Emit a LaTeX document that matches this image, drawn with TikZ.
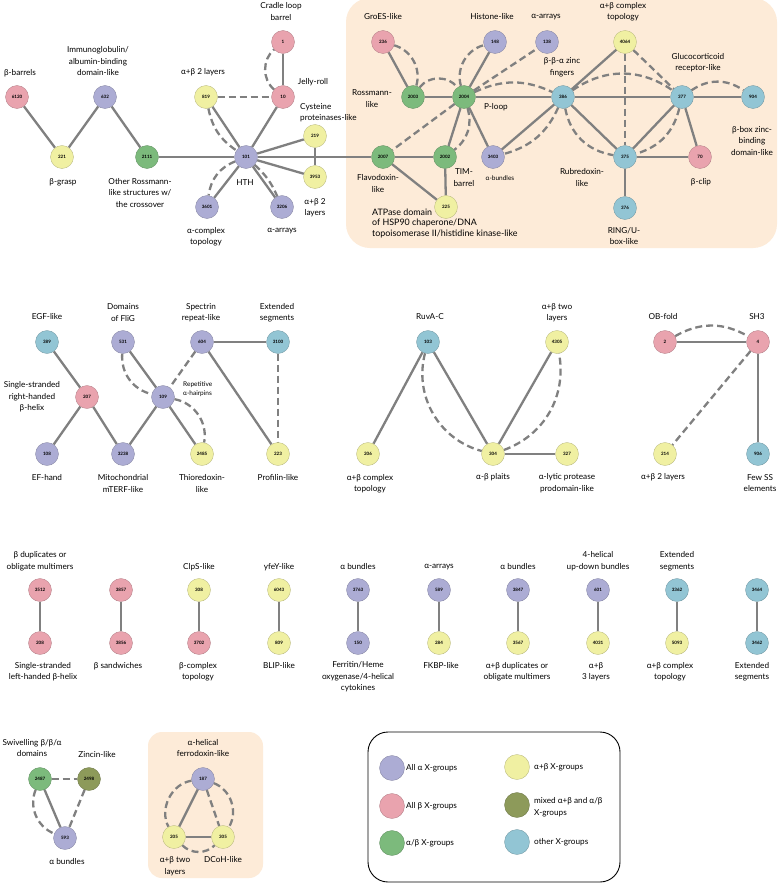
\documentclass[tikz,border=0pt]{standalone}
\usepackage{fontspec}
\setmainfont{Lato}
\pgfdeclarelayer{back}
\pgfdeclarelayer{edges}
\pgfsetlayers{back,edges,main}
\definecolor{ca}{RGB}{172,172,212}
\definecolor{cb}{RGB}{233,163,174}
\definecolor{cab}{RGB}{124,186,124}
\definecolor{capb}{RGB}{240,240,162}
\definecolor{cmx}{RGB}{141,154,90}
\definecolor{cot}{RGB}{146,197,212}
\definecolor{ec}{RGB}{128,128,128}
\definecolor{peach}{RGB}{253,235,216}
\newcommand\nfont{\fontsize{4.5}{5}\selectfont\bfseries}
\newcommand\lfont{\fontsize{8.2}{11.5}\selectfont}
\newcommand\sfont{\fontsize{6.5}{9.5}\selectfont}
\newcommand\bfontx{\fontsize{8.9}{10.5}\selectfont}
\tikzset{
  nd/.style={circle, minimum size=23pt, inner sep=0pt, draw=#1!75!black, line width=0.3pt, fill=#1, font=\nfont},
  na/.style={nd=ca}, nb/.style={nd=cb}, nab/.style={nd=cab}, napb/.style={nd=capb}, nmx/.style={nd=cmx}, nother/.style={nd=cot},
  lg/.style={minimum size=25pt},
  sl/.style={draw=ec, line width=2.3pt},
  dsh/.style={draw=ec, line width=2.3pt, dash pattern=on 7pt off 4pt},
  lb/.style={font=\lfont, align=center, inner sep=0pt},
  lbl/.style={font=\lfont, align=left, inner sep=0pt, anchor=west},
  lbs/.style={font=\sfont, align=left, inner sep=0pt, anchor=west},
}
\begin{document}
\begin{tikzpicture}[x=1pt,y=-1pt]
\useasboundingbox (0,0) rectangle (780,886);
\begin{pgfonlayer}{back}
\fill[white] (0,0) rectangle (780,886);
\fill[peach, rounded corners=24pt] (346,-2) rectangle (777,248);
\fill[peach, rounded corners=14pt] (148,732) rectangle (263,878);
\draw[black, line width=0.9pt, rounded corners=20pt] (368,732) rectangle (620,882);
\end{pgfonlayer}

% ---------- top-left cluster ----------
\node[nb] (n6120) at (17,97) {6120};
\node[napb] (n221) at (62,157) {221};
\node[na] (n632) at (105,97) {632};
\node[nab] (n2111) at (147,157) {2111};
\node[na] (n101) at (246,157) {101};
\node[napb] (n819) at (206,97) {819};
\node[nb] (n10) at (283,97) {10};
\node[nb] (n1) at (283,42) {1};
\node[napb] (n219) at (315,136) {219};
\node[napb] (n3953) at (315,177) {3953};
\node[na] (n3601) at (207,207) {3601};
\node[na] (n3206) at (282,207) {3206};

\node[lb] (t6120) at (20,73) {β-barrels};
\node[lb] (t221) at (63,182) {β-grasp};
\node[lb] (t632) at (98,61.5) {Immunoglobulin/\\albumin-binding\\domain-like};
\node[lb] (t2111) at (140,193) {Other Rossmann-\\like structures w/\\the crossover};
\node[lb] (t101) at (245,183) {HTH};
\node[lb] (t819) at (203,72) {α+β 2 layers};
\node[lb] (t10) at (313,82) {Jelly-roll};
\node[lb] (t1) at (281,11.5) {Cradle loop\\barrel};
\node[lbl] (t219) at (300,112.5) {Cysteine\\proteinases-like};
\node[lb] (t3953) at (315,207.5) {α+β 2\\layers};
\node[lb] (t3601) at (206,236.5) {α-complex\\topology};
\node[lb] (t3206) at (282,231) {α-arrays};

% ---------- top-right cluster ----------
\node[nb] (n236) at (383,42) {236};
\node[nab] (n2003) at (413,97) {2003};
\node[nab] (n2004) at (464,97) {2004};
\node[na] (n148) at (495,42) {148};
\node[na] (n138) at (547,42) {138};
\node[napb] (n4064) at (625,42) {4064};
\node[nother] (n386) at (563,97) {386};
\node[nother] (n377) at (682,97) {377};
\node[nother] (n904) at (753,97) {904};
\node[nab] (n2007) at (383,157) {2007};
\node[nab] (n2002) at (445,157) {2002};
\node[na] (n3403) at (493,157) {3403};
\node[napb] (n225) at (446,207) {225};
\node[nother] (n375) at (625,157) {375};
\node[nb] (n70) at (700,157) {70};
\node[nother] (n376) at (625,208) {376};

\node[lb] (t236) at (383,17) {GroES-like};
\node[lb] (t2003) at (372,98.5) {Rossmann-\\like};
\node[lb] (t2004) at (496,107) {P-loop};
\node[lb] (t148) at (492,17) {Histone-like};
\node[lb] (t138) at (546,17) {α-arrays};
\node[lb] (t4064) at (623,11.5) {α+β complex\\topology};
\node[lb] (t386) at (562,67.5) {β-β-α zinc\\fingers};
\node[lb] (t377) at (698,62.5) {Glucocorticoid\\receptor-like};
\node[lb] (t904) at (752,141) {β-box zinc-\\binding\\domain-like};
\node[lb] (t2007) at (378,183.5) {Flavodoxin-\\like};
\node[lb] (t2002) at (464,177.5) {TIM-\\barrel};
\node[lb, font=\sfont] (t3403) at (500,178) {α-bundles};
\node[lbl, font=\bfontx] (t225) at (372,223) {ATPase domain\\of HSP90 chaperone/DNA\\topoisomerase II/histidine kinase-like};
\node[lb] (t375) at (582,177.5) {Rubredoxin-\\like};
\node[lb] (t70) at (701,182) {β-clip};
\node[lb] (t376) at (624,236) {RING/U-\\box-like};

% ---------- middle row ----------
\node[nother] (n389) at (47,342) {389};
\node[na] (n531) at (123,342) {531};
\node[na] (n604) at (202,342) {604};
\node[nother] (n3100) at (278,342) {3100};
\node[nb] (n207) at (87,397) {207};
\node[na] (n109) at (163,397) {109};
\node[na] (n108) at (47,454) {108};
\node[na] (n3238) at (123,454) {3238};
\node[napb] (n2485) at (202,454) {2485};
\node[napb] (n223) at (278,454) {223};
\node[napb] (n206) at (368,454) {206};
\node[nother] (n103) at (428,342) {103};
\node[napb] (n4305) at (557,342) {4305};
\node[napb] (n304) at (493,454) {304};
\node[napb] (n327) at (567,454) {327};
\node[nb] (n2) at (665,342) {2};
\node[nb] (n4) at (758,342) {4};
\node[napb] (n214) at (665,454) {214};
\node[nother] (n906) at (758,454) {906};

\node[lb] (t389) at (47,317) {EGF-like};
\node[lb] (t531) at (123,312.5) {Domains\\of FliG};
\node[lb] (t604) at (201,312.5) {Spectrin\\repeat-like};
\node[lb] (t3100) at (277,312.5) {Extended\\segments};
\node[lb] (t207) at (32,397) {Single-stranded\\right-handed\\β-helix};
\node[lbs] (t109) at (183,389) {Repetitive\\α-hairpins};
\node[lb] (t108) at (47,478) {EF-hand};
\node[lb] (t3238) at (123,483.5) {Mitochondrial\\mTERF-like};
\node[lb] (t2485) at (202,483.5) {Thioredoxin-\\like};
\node[lb] (t223) at (278,478) {Profilin-like};
\node[lb] (t206) at (370,483.5) {α+β complex\\topology};
\node[lb] (t103) at (430,317) {RuvA-C};
\node[lb] (t4305) at (557,312.5) {α+β two\\layers};
\node[lb] (t304) at (493,477) {α-β plaits};
\node[lb] (t327) at (567,483) {α-lytic protease\\prodomain-like};
\node[lb] (t2) at (663,317) {OB-fold};
\node[lb] (t4) at (757,317) {SH3};
\node[lb] (t214) at (663,477) {α+β 2 layers};
\node[lb] (t906) at (760,483) {Few SS\\elements};

% ---------- third row (pairs) ----------
\node[nb] (n3512) at (40,590) {3512};
\node[nb] (n208) at (40,643) {208};
\node[nb] (n3857) at (121,590) {3857};
\node[nb] (n3856) at (121,643) {3856};
\node[napb] (n308) at (199,590) {308};
\node[nb] (n3702) at (199,643) {3702};
\node[napb] (n6043) at (279,590) {6043};
\node[napb] (n809) at (279,643) {809};
\node[na] (n3763) at (358,590) {3763};
\node[na] (n150) at (358,643) {150};
\node[na] (n589) at (439,590) {589};
\node[napb] (n284) at (439,643) {284};
\node[na] (n3847) at (518,590) {3847};
\node[napb] (n3567) at (518,643) {3567};
\node[na] (n601) at (598,590) {601};
\node[napb] (n4031) at (598,643) {4031};
\node[nother] (n3362) at (677,590) {3362};
\node[napb] (n5093) at (677,643) {5093};
\node[nother] (n3464) at (757,590) {3464};
\node[nother] (n3462) at (757,643) {3462};

\node[lb] (t3512) at (40,561) {β duplicates or\\obligate multimers};
\node[lb] (t308) at (199,567) {ClpS-like};
\node[lb] (t6043) at (279,567) {yfeY-like};
\node[lb] (t3763) at (358,567) {α bundles};
\node[lb] (t589) at (439,567) {α-arrays};
\node[lb] (t3847) at (518,567) {α bundles};
\node[lb] (t601) at (598,561) {4-helical\\up-down bundles};
\node[lb] (t3362) at (677,561) {Extended\\segments};
\node[lb] (t208) at (43,671.5) {Single-stranded\\left-handed β-helix};
\node[lb] (t3856) at (118,666) {β sandwiches};
\node[lb] (t3702) at (198,671.5) {β-complex\\topology};
\node[lb] (t809) at (279,666) {BLIP-like};
\node[lb] (t150) at (358,677) {Ferritin/Heme\\oxygenase/4-helical\\cytokines};
\node[lb] (t284) at (441,666) {FKBP-like};
\node[lb] (t3567) at (517,671.5) {α+β duplicates or\\obligate multimers};
\node[lb] (t4031) at (596,671.5) {α+β\\3 layers};
\node[lb] (t5093) at (670,671.5) {α+β complex\\topology};
\node[lb] (t3462) at (752,671.5) {Extended\\segments};

% ---------- bottom row ----------
\node[nab] (n2487) at (40,779) {2487};
\node[nmx] (n2498) at (89,779) {2498};
\node[na] (n593) at (65,838) {593};
\node[na] (n187) at (203,779) {187};
\node[napb] (n205) at (174,837) {205};
\node[napb] (n305) at (223,837) {305};

\node[lb] (t2487) at (32,748) {Swivelling β/β/α\\domains};
\node[lb] (t2498) at (97,754) {Zincin-like};
\node[lb] (t593) at (67,862) {α bundles};
\node[lb] (t187) at (203,748) {α-helical\\ferrodoxin-like};
\node[lb] (t205) at (175,866) {α+β two\\layers};
\node[lb] (t305) at (223,860) {DCoH-like};

% ---------- legend ----------
\node[na, lg] (k1) at (392,768) {};
\node[nb, lg] (k2) at (392,806) {};
\node[nab, lg] (k3) at (392,843) {};
\node[napb, lg] (k4) at (517,767) {};
\node[nmx, lg] (k5) at (517,805) {};
\node[nother, lg] (k6) at (517,842) {};
\node[lbl] (kt1) at (406,768) {All α X-groups};
\node[lbl] (kt2) at (406,806) {All β X-groups};
\node[lbl] (kt3) at (406,843) {α/β X-groups};
\node[lbl] (kt4) at (534,767) {α+β X-groups};
\node[lbl] (kt5) at (534,807) {mixed α+β and α/β\\X-groups};
\node[lbl] (kt6) at (534,842) {other X-groups};

% ---------- edges ----------
\begin{pgfonlayer}{edges}
% top-left
\draw[sl] (n6120) -- (n221);
\draw[sl] (n221) -- (n632);
\draw[sl] (n632) -- (n2111);
\draw[sl] (n2111) -- (n101);
\draw[sl] (n101) -- (n819);
\draw[sl] (n101) -- (n10);
\draw[sl] (n10) -- (n1);
\draw[sl] (n101) -- (n219);
\draw[sl] (n101) -- (n3953);
\draw[sl] (n219) -- (n3953);
\draw[sl] (n101) -- (n3601);
\draw[sl] (n101) -- (n3206);
\draw[sl] (n101) -- (n2007);
\draw[dsh] (n819) -- (n10);
\draw[dsh] (n10) to[bend left=50] (n1);
\draw[dsh] (n819) to[bend right=22] (n101);
\draw[dsh] (n101) to[bend right=30] (n3601);
\draw[dsh] (n101) to[bend left=12] (n3206);
% top-right
\draw[sl] (n236) -- (n2003);
\draw[sl] (n2003) -- (n2004);
\draw[sl] (n2004) -- (n148);
\draw[sl] (n2004) -- (n386);
\draw[sl] (n2004) -- (n3403);
\draw[sl] (n2004) -- (n2002);
\draw[sl] (n2007) -- (n2002);
\draw[sl] (n2007) -- (n225);
\draw[sl] (n2002) -- (n225);
\draw[sl] (n386) -- (n4064);
\draw[sl] (n386) -- (n377);
\draw[sl] (n386) -- (n375);
\draw[sl] (n386) -- (n3403);
\draw[sl] (n377) -- (n904);
\draw[sl] (n377) -- (n375);
\draw[sl] (n377) -- (n70);
\draw[sl] (n375) -- (n70);
\draw[sl] (n375) -- (n376);
\draw[dsh] (n2004) -- (n138);
\draw[dsh] (n2004) -- (n2007);
\draw[dsh] (n4064) -- (n375);
\draw[dsh] (n4064) -- (n377);
\draw[dsh] (n236) to[bend left=45] (n2003);
\draw[dsh] (n2003) to[bend left=55] (n2004);
\draw[dsh] (n2004) to[bend left=45] (n148);
\draw[dsh] (n2004) to[bend left=25] (n386);
\draw[dsh] (n2004) to[bend left=35] (n2002);
\draw[dsh] (n386) to[bend left=35] (n377);
\draw[dsh] (n377) to[bend left=35] (n904);
\draw[dsh] (n386) to[bend right=35] (n375);
\draw[dsh] (n386) to[bend left=25] (n3403);
\draw[dsh] (n377) to[bend left=30] (n375);
% middle
\draw[sl] (n389) -- (n207);
\draw[sl] (n207) -- (n108);
\draw[sl] (n207) -- (n3238);
\draw[sl] (n3238) -- (n109);
\draw[sl] (n531) -- (n109);
\draw[sl] (n109) -- (n2485);
\draw[sl] (n604) -- (n3100);
\draw[sl] (n604) -- (n223);
\draw[dsh] (n604) -- (n109);
\draw[dsh] (n3100) -- (n223);
\draw[dsh] (n531) to[bend right=40] (n109);
\draw[dsh] (n109) to[bend left=45] (n2485);
\draw[sl] (n206) -- (n103);
\draw[sl] (n103) -- (n304);
\draw[sl] (n304) -- (n4305);
\draw[sl] (n304) -- (n327);
\draw[dsh] (n103) to[bend right=45] (n304);
\draw[dsh] (n304) to[bend right=40] (n4305);
\draw[sl] (n2) -- (n4);
\draw[sl] (n4) -- (n906);
\draw[dsh] (n4) -- (n214);
\draw[dsh] (n2) to[bend left=30] (n4);
% pairs
\draw[sl] (n3512) -- (n208);
\draw[sl] (n3857) -- (n3856);
\draw[sl] (n308) -- (n3702);
\draw[sl] (n6043) -- (n809);
\draw[sl] (n3763) -- (n150);
\draw[sl] (n589) -- (n284);
\draw[sl] (n3847) -- (n3567);
\draw[sl] (n601) -- (n4031);
\draw[sl] (n3362) -- (n5093);
\draw[sl] (n3464) -- (n3462);
% bottom
\draw[sl] (n2487) -- (n593);
\draw[dsh] (n2487) -- (n2498);
\draw[dsh] (n2498) -- (n593);
\draw[dsh] (n2487) to[bend right=45] (n593);
\draw[sl] (n187) -- (n205);
\draw[sl] (n205) -- (n305);
\draw[dsh] (n187) -- (n305);
\draw[dsh] (n187) to[bend right=55] (n205);
\draw[dsh] (n187) to[bend left=50] (n305);
\draw[dsh] (n205) to[bend right=45] (n305);
\end{pgfonlayer}
\end{tikzpicture}
\end{document}
